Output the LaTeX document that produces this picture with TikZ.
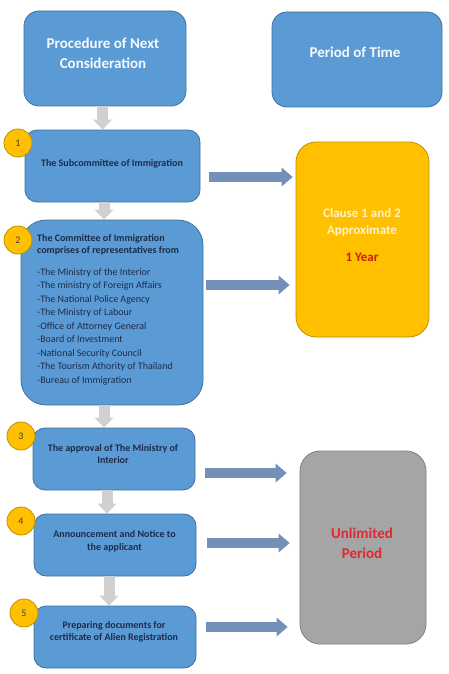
\documentclass[tikz,border=0pt]{standalone}
\usepackage{fontspec}
\setmainfont{Carlito}
\usetikzlibrary{arrows.meta,calc}
\definecolor{cbox}{HTML}{5B9BD5}
\definecolor{cboxedge}{HTML}{41719C}
\definecolor{cgold}{HTML}{FFC000}
\definecolor{cgoldedge}{HTML}{BF9000}
\definecolor{cgrey}{HTML}{A5A5A5}
\definecolor{cgreyedge}{HTML}{7F7F7F}
\definecolor{cnavy}{HTML}{1C2B4A}
\definecolor{cflow}{HTML}{D0D0D0}
\definecolor{clink}{HTML}{7290B8}
\definecolor{ccream}{HTML}{FFF2CC}
\definecolor{cyear}{HTML}{C8200A}
\definecolor{cunlim}{HTML}{E3262E}
\def\xL{112}   % centre of the step column
\def\xR{362.5} % centre of the period column

\begin{document}
\begin{tikzpicture}[x=1pt, y=-1pt, line join=round,
  box/.style={draw=cboxedge, fill=cbox, line width=0.8pt, inner sep=0pt,
              rounded corners=#1},
  box/.default=12pt,
  headtext/.style={text=white!94!cbox, inner sep=0pt, align=center,
                   font=\fontsize{15}{20}\selectfont\bfseries},
  steptext/.style={text=cnavy, inner sep=0pt, align=center,
                   font=\fontsize{10}{12.5}\selectfont\bfseries},
  listtext/.style={text=cnavy, inner sep=0pt, align=left,
                   font=\fontsize{10}{13.5}\selectfont},
  badge/.style={circle, draw=cgoldedge, fill=cgold, line width=0.8pt,
                minimum size=28pt, inner sep=0pt, text=black!75,
                font=\fontsize{10}{12}\selectfont},
  flow/.style={cflow, line width=11pt,
               -{Triangle[width=19pt,length=10pt,line width=0pt]}},
  link/.style={clink, line width=9.5pt,
               -{Triangle[width=19pt,length=11pt,line width=0pt]}}]

\path[use as bounding box, fill=white] (0,0) rectangle (449,674);

% =================== headings ===================
\node[box=15pt, minimum width=162pt, minimum height=95pt] (proc) at (105,58.5) {};
\node[headtext] (proct) at (103,53) {Procedure of Next\\Consideration};
\node[box=15pt, minimum width=170pt, minimum height=95pt] (period) at (357,59.5) {};
\node[headtext] (periodt) at (355,52) {Period of Time};

% =================== procedure steps ===================
\node[box, minimum width=175pt, minimum height=72pt] (s1) at (\xL+0.5,166) {};
\node[steptext] (s1t) at (\xL,163.5) {The Subcommittee of Immigration};

\node[box=25pt, minimum width=182pt, minimum height=185pt] (s2) at (\xL,312.5) {};
\node[listtext, anchor=north west] (s2t) at (37,234)
  {\textbf{The Committee of Immigration}\\[-1.5pt]
   \textbf{comprises of representatives from}\\[8.5pt]
   -The Ministry of the Interior\\
   -The ministry of Foreign Affairs\\
   -The National Police Agency\\
   -The Ministry of Labour\\
   -Office of Attorney General\\
   -Board of Investment\\
   -National Security Council\\
   -The Tourism Athority of Thailand\\
   -Bureau of Immigration};

\node[box, minimum width=162pt, minimum height=62pt] (s3) at (114,459) {};
\node[steptext] (s3t) at (113,454) {The approval of The Ministry of\\Interior};
\node[box, minimum width=162pt, minimum height=62pt] (s4) at (115,545) {};
\node[steptext] (s4t) at (114.5,541.5) {Announcement and Notice to\\the applicant};
\node[box, minimum width=162pt, minimum height=62pt] (s5) at (115,637) {};
\node[steptext] (s5t) at (114,632) {Preparing documents for\\certificate of Alien Registration};

% =================== periods ===================
\node[draw=cgoldedge, fill=cgold, line width=0.8pt, rounded corners=20pt,
      minimum width=133pt, minimum height=195pt] (clause) at (\xR,239.5) {};
\node[text=ccream, align=center, inner sep=0pt,
      font=\fontsize{13}{17}\selectfont\bfseries] (clauset) at (362,235)
  {Clause 1 and 2\\Approximate\\[10pt]\textcolor{cyear}{1 Year}};
\node[draw=cgreyedge, fill=cgrey, line width=0.8pt, rounded corners=20pt,
      minimum width=126pt, minimum height=193pt] (unlim) at (363,547.5) {};
\node[text=cunlim, align=center, inner sep=0pt,
      font=\fontsize{15}{20}\selectfont\bfseries] (unlimt) at (362,543)
  {Unlimited\\Period};

% =================== flow down the column ===================
\draw[flow] (proc.south -| 102.5,0) -- (s1.north -| 102.5,0);
\draw[flow] (s1.south -| 104,0) -- (s2.north -| 104,0);
\draw[flow] (s2.south -| 104,0) -- (s3.north -| 104,0);
\draw[flow] (s3.south -| 107,0) -- (s4.north -| 107,0);
\draw[flow] (s4.south -| 109,0) -- (s5.north -| 109,0);

% =================== links to the periods ===================
\draw[link, shorten <=9pt, shorten >=3pt] (s1.east |- 0,177) -- (clause.west |- 0,177);
\draw[link, shorten <=3pt, shorten >=6pt] (s2.east |- 0,285) -- (clause.west |- 0,285);
\draw[link, shorten <=10pt, shorten >=13pt] (s3.east |- 0,473) -- (unlim.west |- 0,473);
\draw[link, shorten <=11pt, shorten >=10pt] (s4.east |- 0,543) -- (unlim.west |- 0,543);
\draw[link, shorten <=10pt, shorten >=12pt] (s5.east |- 0,627) -- (unlim.west |- 0,627);

% step numbers
\node[badge] (n1) at (18,143) {1};
\node[badge] (n2) at (18,240) {2};
\node[badge] (n3) at (21,436) {3};
\node[badge] (n4) at (21,521) {4};
\node[badge] (n5) at (24,613) {5};

\end{tikzpicture}
\end{document}
